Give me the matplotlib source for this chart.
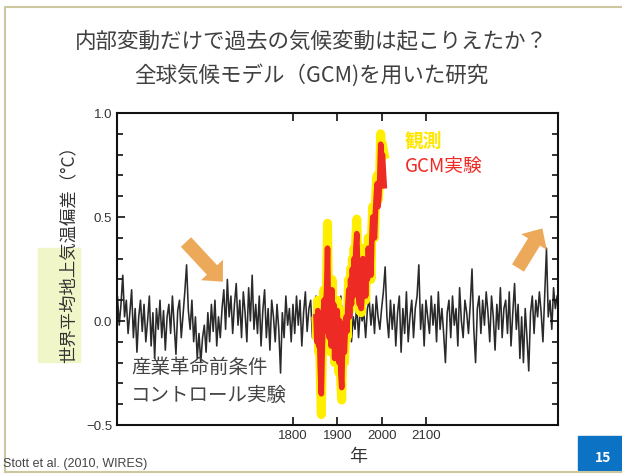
import numpy as np
import matplotlib.pyplot as plt
from matplotlib.patches import Rectangle, FancyArrow
from matplotlib.ticker import FixedLocator, FixedFormatter, MultipleLocator

plt.rcParams['font.family'] = ['Noto Sans CJK JP', 'DejaVu Sans']

# --- control run (pre-industrial), 4-year steps from 1400 ---
ctrl_start, ctrl_step = 1400, 4
ctrl = [
    0.05, 0.12, -0.02, 0.08, 0.22, 0.02, 0.10, -0.06, 0.04, 0.15,
    -0.08, 0.06, -0.15, 0.02, 0.10, -0.05, 0.08, -0.10, 0.00, 0.12,
    -0.12, 0.04, -0.18, 0.06, -0.04, 0.10, -0.08, 0.05, -0.14, 0.02,
    0.08, -0.06, 0.12, -0.02, -0.16, 0.05, 0.10, -0.08, 0.03, 0.14,
    0.27, 0.05, -0.04, 0.10, -0.10, 0.02, -0.18, -0.06, -0.20, -0.08,
    -0.02, -0.15, 0.04, -0.10, 0.08, -0.05, 0.10, -0.12, 0.02, -0.08,
    0.06, 0.15, -0.04, 0.20, 0.02, 0.12, -0.06, 0.08, 0.18, -0.02,
    0.10, -0.08, 0.14, 0.04, -0.10, 0.16, 0.00, 0.22, -0.04, 0.08,
    -0.06, 0.12, -0.12, 0.05, 0.15, -0.08, 0.06, -0.14, 0.10, 0.02,
    -0.10, 0.08, -0.04, -0.25, 0.04, -0.08, 0.12, -0.02, 0.06, -0.10,
    0.08, -0.06, 0.12, -0.02, 0.10, -0.12, 0.04, 0.14, -0.05, 0.06,
    0.10, -0.08, 0.04, 0.12, -0.04, 0.08, -0.10, 0.15, 0.02, -0.06,
    0.10, -0.04, 0.06, -0.12, 0.08, 0.02, -0.08, 0.12, -0.02, 0.05,
    -0.06, 0.04, 0.10, -0.10, 0.02, -0.04, 0.08, -0.08, 0.06, 0.00,
    0.04, -0.08, 0.06, 0.10, -0.02, 0.08, -0.06, 0.12, 0.02, -0.04,
    0.06, 0.14, 0.26, 0.02, -0.08, 0.10, -0.04, 0.08, -0.12, 0.04,
    0.12, -0.15, 0.06, -0.06, 0.14, -0.10, 0.02, 0.10, -0.08, 0.06,
    0.12, 0.27, -0.04, 0.08, -0.12, 0.10, 0.02, -0.06, 0.12, -0.02,
    0.08, -0.10, 0.14, -0.04, 0.06, -0.06, -0.20, 0.04, 0.10, -0.08,
    0.12, -0.02, 0.06, -0.12, 0.16, 0.00, -0.08, 0.10, 0.04, -0.06,
    0.08, 0.25, -0.04, -0.20, 0.06, 0.12, -0.06, 0.10, -0.02, 0.14,
    0.04, -0.10, 0.12, 0.02, -0.14, 0.08, -0.04, 0.16, -0.08, 0.06,
    0.10, -0.06, 0.14, -0.12, 0.04, 0.18, -0.04, 0.08, -0.18, 0.02,
    -0.20, 0.06, -0.08, -0.24, 0.04, 0.12, -0.06, 0.10, 0.02, 0.14,
    0.04, -0.10, 0.12, 0.35, 0.02, 0.10, -0.04, 0.16, 0.06, 0.12,
]

# --- observations and GCM, 2-year steps from 1852 ---
hist_start, hist_step = 1852, 2
obs = [
    0.00, -0.08, 0.10, -0.15, -0.05, -0.30, -0.45, -0.20, -0.05, 0.15,
    -0.10, 0.05, 0.20, 0.47, 0.10, -0.05, 0.12, -0.15, 0.20, -0.05,
    0.10, -0.20, 0.05, -0.12, 0.10, -0.05, -0.25, 0.05, -0.30, -0.38,
    -0.15, 0.00, -0.20, -0.10, 0.05, -0.08, 0.10, 0.20, 0.05, 0.25,
    0.10, 0.30, 0.15, 0.35, 0.25, 0.40, 0.49, 0.30, 0.15, 0.05,
    0.20, 0.04, 0.15, 0.35, 0.20, 0.30, 0.10, 0.28, 0.22, 0.40,
    0.25, 0.30, 0.20, 0.45, 0.55, 0.45, 0.40, 0.55, 0.65, 0.70,
    0.58, 0.62, 0.72, 0.90, 0.78, 0.85, 0.82, 0.80,
]
gcm = [
    0.02, -0.10, 0.05, -0.12, -0.08, -0.25, -0.35, -0.15, 0.00, 0.10,
    -0.05, 0.08, 0.15, 0.35, 0.05, -0.08, 0.10, -0.12, 0.15, -0.02,
    0.08, -0.18, 0.02, -0.10, 0.05, -0.08, -0.20, 0.00, -0.25, -0.32,
    -0.12, -0.02, -0.15, -0.05, 0.02, -0.05, 0.08, 0.15, 0.02, 0.20,
    0.08, 0.25, 0.12, 0.30, 0.22, 0.35, 0.42, 0.25, 0.12, 0.08,
    0.18, 0.06, 0.12, 0.30, 0.18, 0.28, 0.12, 0.25, 0.20, 0.35,
    0.25, 0.30, 0.22, 0.40, 0.50, 0.42, 0.40, 0.52, 0.60, 0.66,
    0.55, 0.60, 0.70, 0.85, 0.75, 0.80, 0.72, 0.65,
]

x_ticks = [1800, 1900, 2000, 2100]
y_ticks = [-0.5, 0.0, 0.5, 1.0]
y_labels = ['\u22120.5', '0.0', '0.5', '1.0']

ctrl_years = ctrl_start + ctrl_step * np.arange(len(ctrl))
hist_years = hist_start + hist_step * np.arange(len(obs))

W, H = 622, 475
fig = plt.figure(figsize=(W / 100, H / 100), dpi=100)
fig.patch.set_facecolor('white')

ax = fig.add_axes([117 / W, 1 - 425 / H, 441 / W, 312 / H])
ax.plot(ctrl_years, ctrl, color='#2a2a2a', lw=1.15, zorder=1)
ax.plot(hist_years, obs, color='#ffee00', lw=6.5, zorder=2, solid_joinstyle='round')
ax.plot(hist_years, gcm, color='#ee2a24', lw=4, zorder=3, solid_joinstyle='round')
ax.set_xlim(1403, 2398)
ax.set_ylim(-0.5, 1.0)

ax.xaxis.set_major_locator(FixedLocator(x_ticks))
ax.set_xticklabels([str(v) for v in x_ticks])
ax.yaxis.set_major_locator(FixedLocator(y_ticks))
ax.yaxis.set_major_formatter(FixedFormatter(y_labels))
ax.yaxis.set_minor_locator(MultipleLocator(0.1))
ax.tick_params(which='both', direction='in', top=True, right=True, width=1.2,
               colors='#111111', labelcolor='#333333')
ax.tick_params(which='major', length=6, labelsize=9.5)
ax.tick_params(which='minor', length=4)
for lab in ax.get_xticklabels() + ax.get_yticklabels():
    lab.set_family('Liberation Sans')
for sp in ax.spines.values():
    sp.set_linewidth(1.5)
    sp.set_color('#111111')

ax.text(2053, 0.865, '観測', color='#ffe600', fontsize=13.5, fontweight='bold', va='center')
ax.text(2053, 0.745, 'GCM実験', color='#ee2a24', fontsize=13.5, va='center')
ax.text(1435, -0.25, '産業革命前条件', color='#444444', fontsize=14)
ax.text(1435, -0.385, 'コントロール実験', color='#444444', fontsize=14)

# overlay in pixel coordinates for the slide decorations
ov = fig.add_axes([0, 0, 1, 1], zorder=5)
ov.set_xlim(0, W)
ov.set_ylim(H, 0)
ov.axis('off')
ov.patch.set_alpha(0)

ov.plot([5, 5, W], [472, 7, 7], color='#cdc7a0', lw=1.5)
ov.plot([5, W], [472, 472], color='#cdc7a0', lw=1.5)

ov.text(W / 2, 42, '内部変動だけで過去の気候変動は起こりえたか？', ha='center', va='center',
        fontsize=15.5, color='#404040')
ov.text(W / 2, 75, '全球気候モデル（GCM)を用いた研究', ha='center', va='center',
        fontsize=15.5, color='#404040')

ov.add_patch(Rectangle((38, 248), 42, 114, color='#f0f6c8', zorder=1))
ov.text(68, 250, '世界平均地上気温偏差（°C）', rotation=90, ha='center', va='center',
        fontsize=12.5, color='#333333', zorder=2)
ov.text(358, 457, '年', ha='center', va='center', fontsize=13, color='#333333')
ov.text(3, 464, 'Stott et al. (2010, WIRES)', ha='left', va='center', fontsize=9,
        color='#444444', family='Liberation Sans')

ov.add_patch(FancyArrow(186, 242, 26, 28, width=14, head_width=30, head_length=16,
                        length_includes_head=False, color='#eda95a', lw=0))
ov.add_patch(FancyArrow(518, 268, 16, -26, width=14, head_width=30, head_length=16,
                        length_includes_head=False, color='#eda95a', lw=0))

ov.add_patch(Rectangle((578, 436), 44, 34, color='#0b72c4'))
ov.text(603, 458, '15', ha='center', va='center', fontsize=10, fontweight='bold',
        color='white')

fig.savefig('out.png', dpi=100)
